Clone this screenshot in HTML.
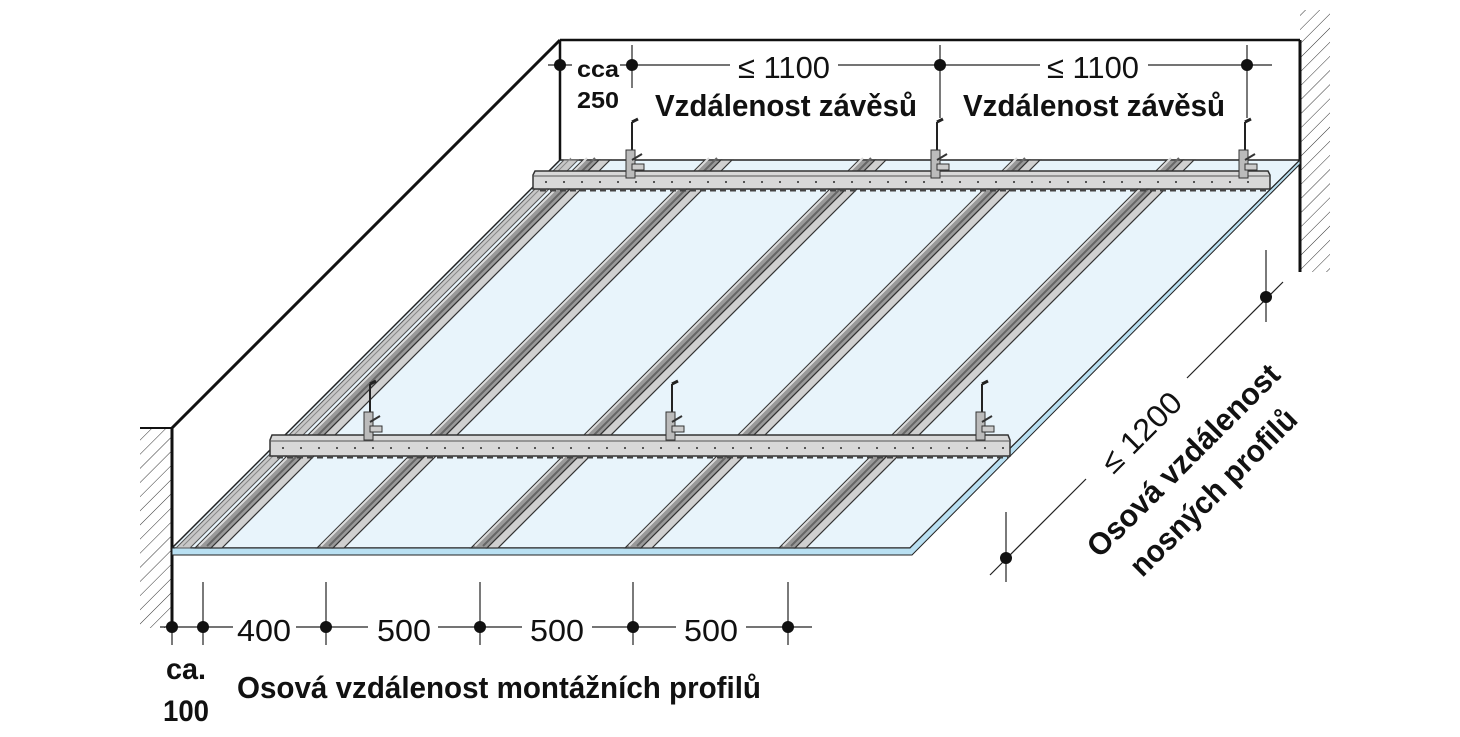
<!DOCTYPE html>
<html><head><meta charset="utf-8"><style>
html,body{margin:0;padding:0;background:#fff;}
svg{display:block;}
text{font-family:"Liberation Sans",sans-serif;fill:#111;}
</style></head><body>
<svg width="1460" height="737" viewBox="0 0 1460 737" xmlns="http://www.w3.org/2000/svg">
<defs>
<pattern id="hatch" width="10" height="10" patternUnits="userSpaceOnUse" patternTransform="rotate(45)">
<line x1="0" y1="0" x2="0" y2="10" stroke="#333" stroke-width="1"/>
</pattern>
<g id="chan">
<polygon points="0,0 16,0 404,-388 388,-388" fill="#999" stroke="#333" stroke-width="1.2"/>
<line x1="4" y1="-2" x2="392" y2="-390" stroke="#ddd" stroke-width="2"/>
<line x1="12" y1="-2" x2="400" y2="-390" stroke="#666" stroke-width="2"/>
<polygon points="16,0 27,0 415,-388 404,-388" fill="#d0d0d0" stroke="#333" stroke-width="1.2"/>
</g>
<g id="hanger">
<line x1="0" y1="0" x2="0" y2="52" stroke="#222" stroke-width="2"/>
<line x1="0" y1="0" x2="6" y2="-3" stroke="#222" stroke-width="3"/>
<rect x="-6" y="28" width="9" height="28" fill="#bbb" stroke="#333"/>
<line x1="0" y1="38" x2="10" y2="32" stroke="#333" stroke-width="2"/>
<rect x="0" y="42" width="12" height="6" fill="#ccc" stroke="#333"/>
</g>
</defs>

<rect x="140" y="428" width="32" height="200" fill="url(#hatch)"/>
<line x1="140" y1="428" x2="172" y2="428" stroke="#111" stroke-width="2"/>
<line x1="172" y1="428" x2="172" y2="630" stroke="#111" stroke-width="3"/>
<line x1="172" y1="428" x2="560" y2="40" stroke="#111" stroke-width="3"/>
<line x1="560" y1="40" x2="560" y2="160" stroke="#111" stroke-width="2.5"/>
<line x1="560" y1="40" x2="1300" y2="40" stroke="#111" stroke-width="2.5"/>
<rect x="1300" y="10" width="30" height="262" fill="url(#hatch)"/>
<line x1="1300" y1="40" x2="1300" y2="272" stroke="#111" stroke-width="3"/>

<polygon points="172,548 910,548 1300,160 560,160" fill="#e8f4fb" stroke="#222" stroke-width="1.5"/>
<polygon points="172,548 910,548 1300,160 1300,164 912,555 172,555" fill="#b9e0f2" stroke="#222" stroke-width="1"/>

<polygon points="176,548 190,548 578,160 564,160" fill="#c8c8c8" stroke="#555" stroke-width="1"/>
<line x1="183" y1="546" x2="571" y2="158" stroke="#888" stroke-width="1"/>

<use href="#chan" x="195" y="548"/>
<use href="#chan" x="317" y="548"/>
<use href="#chan" x="471" y="548"/>
<use href="#chan" x="625" y="548"/>
<use href="#chan" x="779" y="548"/>

<!-- back cross profile -->
<polygon points="535,171 1268,171 1270,175 1270,189 533,189 533,175" fill="#d8d8d8" stroke="#333" stroke-width="1.5"/>
<line x1="533" y1="176" x2="1270" y2="176" stroke="#555" stroke-width="1"/>
<line x1="540" y1="190" x2="1268" y2="190" stroke="#444" stroke-width="3" stroke-dasharray="6,4"/>
<line x1="545" y1="182" x2="1265" y2="182" stroke="#555" stroke-width="2" stroke-dasharray="2,16"/>
<!-- front cross profile -->
<polygon points="272,435 1008,435 1010,440 1010,456 270,456 270,440" fill="#d8d8d8" stroke="#333" stroke-width="1.5"/>
<line x1="270" y1="441" x2="1010" y2="441" stroke="#555" stroke-width="1"/>
<line x1="277" y1="457" x2="1008" y2="457" stroke="#444" stroke-width="3" stroke-dasharray="6,4"/>
<line x1="282" y1="448" x2="1005" y2="448" stroke="#555" stroke-width="2" stroke-dasharray="2,16"/>

<use href="#hanger" x="632" y="122"/>
<use href="#hanger" x="937" y="122"/>
<use href="#hanger" x="1245" y="122"/>
<use href="#hanger" x="370" y="384"/>
<use href="#hanger" x="672" y="384"/>
<use href="#hanger" x="982" y="384"/>

<g stroke="#222" stroke-width="1.2">
<line x1="548" y1="65" x2="572" y2="65"/>
<line x1="620" y1="65" x2="730" y2="65"/>
<line x1="838" y1="65" x2="1040" y2="65"/>
<line x1="1148" y1="65" x2="1272" y2="65"/>
<line x1="632" y1="45" x2="632" y2="88"/>
<line x1="940" y1="45" x2="940" y2="118"/>
<line x1="1247" y1="45" x2="1247" y2="118"/>
</g>
<g fill="#111">
<circle cx="560" cy="65" r="6"/><circle cx="632" cy="65" r="6"/><circle cx="940" cy="65" r="6"/><circle cx="1247" cy="65" r="6"/>
</g>
<text x="598" y="77" font-size="23" font-weight="bold" text-anchor="middle" textLength="42" lengthAdjust="spacingAndGlyphs">cca</text>
<text x="598" y="108" font-size="23" font-weight="bold" text-anchor="middle" textLength="42" lengthAdjust="spacingAndGlyphs">250</text>
<text x="784" y="78" font-size="31" text-anchor="middle" textLength="92" lengthAdjust="spacingAndGlyphs">≤ 1100</text>
<text x="1093" y="78" font-size="31" text-anchor="middle" textLength="92" lengthAdjust="spacingAndGlyphs">≤ 1100</text>
<text x="655" y="116" font-size="31" font-weight="bold" textLength="262" lengthAdjust="spacingAndGlyphs">Vzdálenost závěsů</text>
<text x="963" y="116" font-size="31" font-weight="bold" textLength="262" lengthAdjust="spacingAndGlyphs">Vzdálenost závěsů</text>

<g stroke="#222" stroke-width="1.2">
<line x1="160" y1="627" x2="233" y2="627"/>
<line x1="296" y1="627" x2="368" y2="627"/>
<line x1="438" y1="627" x2="522" y2="627"/>
<line x1="592" y1="627" x2="676" y2="627"/>
<line x1="746" y1="627" x2="812" y2="627"/>
<line x1="203" y1="582" x2="203" y2="645"/>
<line x1="326" y1="582" x2="326" y2="645"/>
<line x1="480" y1="582" x2="480" y2="645"/>
<line x1="633" y1="582" x2="633" y2="645"/>
<line x1="788" y1="582" x2="788" y2="645"/>
<line x1="172" y1="627" x2="172" y2="645"/>
</g>
<g fill="#111">
<circle cx="172" cy="627" r="6"/><circle cx="203" cy="627" r="6"/><circle cx="326" cy="627" r="6"/><circle cx="480" cy="627" r="6"/><circle cx="633" cy="627" r="6"/><circle cx="788" cy="627" r="6"/>
</g>
<text x="264" y="641" font-size="31" text-anchor="middle" textLength="54" lengthAdjust="spacingAndGlyphs">400</text>
<text x="404" y="641" font-size="31" text-anchor="middle" textLength="54" lengthAdjust="spacingAndGlyphs">500</text>
<text x="557" y="641" font-size="31" text-anchor="middle" textLength="54" lengthAdjust="spacingAndGlyphs">500</text>
<text x="711" y="641" font-size="31" text-anchor="middle" textLength="54" lengthAdjust="spacingAndGlyphs">500</text>
<text x="186" y="679" font-size="30" font-weight="bold" text-anchor="middle" textLength="40" lengthAdjust="spacingAndGlyphs">ca.</text>
<text x="186" y="721" font-size="30" font-weight="bold" text-anchor="middle" textLength="46" lengthAdjust="spacingAndGlyphs">100</text>
<text x="237" y="698" font-size="31" font-weight="bold" textLength="524" lengthAdjust="spacingAndGlyphs">Osová vzdálenost montážních profilů</text>

<g stroke="#222" stroke-width="1.2">
<line x1="990" y1="575" x2="1086" y2="479"/>
<line x1="1187" y1="378" x2="1283" y2="282"/>
<line x1="1006" y1="512" x2="1006" y2="582"/>
<line x1="1266" y1="250" x2="1266" y2="322"/>
</g>
<circle cx="1006" cy="558" r="6" fill="#111"/>
<circle cx="1266" cy="297" r="6" fill="#111"/>
<g transform="translate(1141,432) rotate(-45)">
<text x="0" y="11" font-size="31" text-anchor="middle" textLength="100" lengthAdjust="spacingAndGlyphs">≤ 1200</text>
</g>
<g transform="translate(1183,460) rotate(-45)">
<text x="0" y="11" font-size="31" font-weight="bold" text-anchor="middle" textLength="258" lengthAdjust="spacingAndGlyphs">Osová vzdálenost</text>
</g>
<g transform="translate(1213,492) rotate(-45)">
<text x="0" y="11" font-size="31" font-weight="bold" text-anchor="middle" textLength="222" lengthAdjust="spacingAndGlyphs">nosných profilů</text>
</g>
</svg>
</body></html>
